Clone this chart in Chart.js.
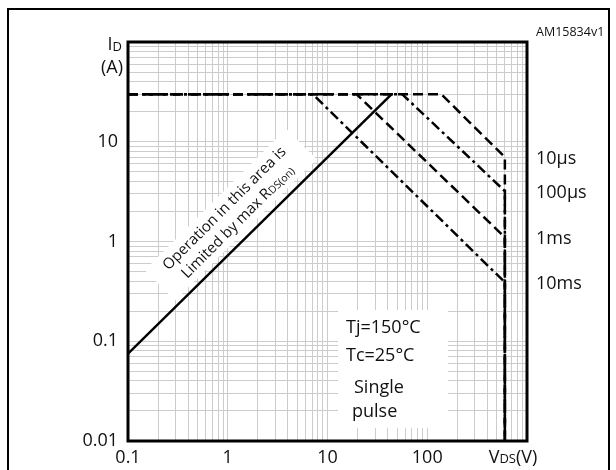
<!DOCTYPE html>
<html>
<head>
<meta charset="utf-8">
<script src="https://cdn.jsdelivr.net/npm/chart.js@4.4.1/dist/chart.umd.min.js"></script>
<style>
  html, body { margin: 0; padding: 0; background: #fff; }
  canvas { display: block; }
</style>
</head>
<body>
<canvas id="soa" width="616" height="470"></canvas>
<script>
// tick labels shown on the axes
const xTickLabels = [0.1, 1, 10, 100];
const yTickLabels = [0.01, 0.1, 1, 10];

// RDS(on) limit line (VDS, ID)
const rdsLimitV = [0.1, 44];
const rdsLimitI = [0.075, 30];

// pulse curves: flat at ID max up to the knee, then falling to the end current at VDS max
const pulseNames = ['10µs', '100µs', '1ms', '10ms'];
const kneeVoltage = [138, 56, 19.5, 7.1];
const endCurrent = [7, 3.2, 1.1, 0.39];
const idMax = 30;
const vdsMax = 600;
const vdsMin = 0.1;
const idMin = 0.01;

const conditions = ['Tj=150°C', 'Tc=25°C', 'Single', 'pulse'];

const FONT = '"Open Sans", "DejaVu Sans", sans-serif';
const dashes = [[10, 5], [10, 4, 3, 4], [10, 5], [10, 4, 3, 4]];

const pulseSets = pulseNames.map((name, i) => ({
  label: name,
  data: [
    { x: vdsMin, y: idMax },
    { x: kneeVoltage[i], y: idMax },
    { x: vdsMax, y: endCurrent[i] },
    { x: vdsMax, y: idMin },
  ],
  borderColor: '#000',
  borderWidth: 2.5,
  borderDash: dashes[i],
  pointRadius: 0,
  showLine: true,
  fill: false,
}));

const rdsSet = {
  label: 'RDS(on)',
  data: rdsLimitV.map((v, i) => ({ x: v, y: rdsLimitI[i] })),
  borderColor: '#000',
  borderWidth: 2.5,
  pointRadius: 0,
  showLine: true,
  fill: false,
};

function logGrid(min, max) {
  const values = [];
  for (let e = Math.round(Math.log10(min)); e < Math.round(Math.log10(max)); e += 1) {
    for (let m = 1; m < 10; m += 1) values.push(Number((m * Math.pow(10, e)).toPrecision(3)));
  }
  values.push(max);
  return values;
}

function isLabelled(list, value) {
  return list.some(v => Math.abs(v - value) / v < 1e-6);
}

// text with smaller parts (subscripts), one run after another
function drawSub(ctx, x, y, parts, align) {
  let total = 0;
  parts.forEach(p => { ctx.font = `${p.size}px ${FONT}`; total += ctx.measureText(p.text).width; });
  let cx = align === 'right' ? x - total : align === 'center' ? x - total / 2 : x;
  ctx.textAlign = 'left';
  parts.forEach(p => {
    ctx.font = `${p.size}px ${FONT}`;
    ctx.fillText(p.text, cx, y + (p.dy || 0));
    cx += ctx.measureText(p.text).width;
  });
}

const decorations = {
  id: 'decorations',
  beforeDatasetsDraw(chart) {
    const ctx = chart.ctx;
    const a = chart.chartArea;
    ctx.save();
    ctx.fillStyle = '#fff';
    // box behind the test conditions
    ctx.fillRect(a.left + 210, a.top + 268, 110, 118);
    // rotated box behind the RDS(on) note
    ctx.translate(a.left + 103, a.top + 173);
    ctx.rotate(-Math.PI / 4);
    ctx.fillRect(-100, -22, 200, 43);
    ctx.restore();
  },
  afterDatasetsDraw(chart) {
    const ctx = chart.ctx;
    const a = chart.chartArea;
    const y = chart.scales.y;
    ctx.save();
    ctx.fillStyle = '#111';
    ctx.textBaseline = 'middle';

    // RDS(on) note
    ctx.save();
    ctx.translate(a.left + 103, a.top + 173);
    ctx.rotate(-Math.PI / 4);
    ctx.font = `15px ${FONT}`;
    ctx.textAlign = 'center';
    ctx.fillText('Operation in this area is', 0, -9);
    drawSub(ctx, 0, 10, [
      { text: 'Limited by max R', size: 15 },
      { text: 'DS(on)', size: 10.5, dy: 2 },
    ], 'center');
    ctx.restore();

    // test conditions
    ctx.font = `18px ${FONT}`;
    ctx.textAlign = 'left';
    ctx.fillText(conditions[0], a.left + 218, a.top + 286);
    ctx.fillText(conditions[1], a.left + 218, a.top + 314);
    ctx.fillText(conditions[2], a.left + 226, a.top + 346);
    ctx.fillText(conditions[3], a.left + 224, a.top + 370);

    // pulse labels at the end of each curve
    pulseNames.forEach((name, i) => {
      ctx.font = `18px ${FONT}`;
      ctx.textAlign = 'left';
      ctx.fillText(name, a.right + 9, y.getPixelForValue(endCurrent[i]) + 2);
    });

    // axis titles
    drawSub(ctx, a.left - 6, a.top + 3, [
      { text: 'I', size: 18 },
      { text: 'D', size: 13, dy: 2 },
    ], 'right');
    ctx.font = `18px ${FONT}`;
    ctx.textAlign = 'right';
    ctx.fillText('(A)', a.left - 5, a.top + 26);
    drawSub(ctx, a.right - 14, a.bottom + 17, [
      { text: 'V', size: 18 },
      { text: 'DS', size: 13, dy: 1 },
      { text: '(V)', size: 18 },
    ], 'center');

    // figure id
    ctx.font = `12.5px ${FONT}`;
    ctx.textAlign = 'left';
    ctx.fillText('AM15834v1', a.right + 9, a.top - 10);
    ctx.restore();
  },
  afterDraw(chart) {
    const ctx = chart.ctx;
    const a = chart.chartArea;
    ctx.save();
    ctx.strokeStyle = '#000';
    ctx.lineWidth = 3;
    ctx.strokeRect(a.left, a.top, a.right - a.left, a.bottom - a.top);
    ctx.lineWidth = 2;
    ctx.strokeRect(8, 9, 601, 500);
    ctx.restore();
  },
};

new Chart(document.getElementById('soa'), {
  type: 'scatter',
  data: { datasets: [rdsSet, ...pulseSets] },
  options: {
    responsive: false,
    animation: false,
    layout: { padding: { top: 42, right: 89, bottom: 0, left: 0 } },
    plugins: { legend: { display: false }, tooltip: { enabled: false } },
    scales: {
      x: {
        type: 'logarithmic',
        min: 0.1,
        max: 1000,
        border: { display: false },
        grid: { color: '#cccccc', lineWidth: 1, drawTicks: false },
        afterBuildTicks: scale => { scale.ticks = logGrid(0.1, 1000).map(v => ({ value: v })); },
        afterFit: scale => { scale.height = 29; },
        ticks: {
          autoSkip: false,
          maxRotation: 0,
          padding: 6,
          color: '#111',
          font: { family: FONT, size: 18 },
          callback: v => (isLabelled(xTickLabels, v) ? String(v) : ''),
        },
      },
      y: {
        type: 'logarithmic',
        min: 0.01,
        max: 100,
        border: { display: false },
        grid: { color: '#cccccc', lineWidth: 1, drawTicks: false },
        afterBuildTicks: scale => { scale.ticks = logGrid(0.01, 100).map(v => ({ value: v })); },
        afterFit: scale => { scale.width = 128; },
        ticks: {
          autoSkip: false,
          padding: 10,
          color: '#111',
          font: { family: FONT, size: 18 },
          callback: v => (isLabelled(yTickLabels, v) ? String(v) : ''),
        },
      },
    },
  },
  plugins: [decorations],
});
</script>
</body>
</html>
